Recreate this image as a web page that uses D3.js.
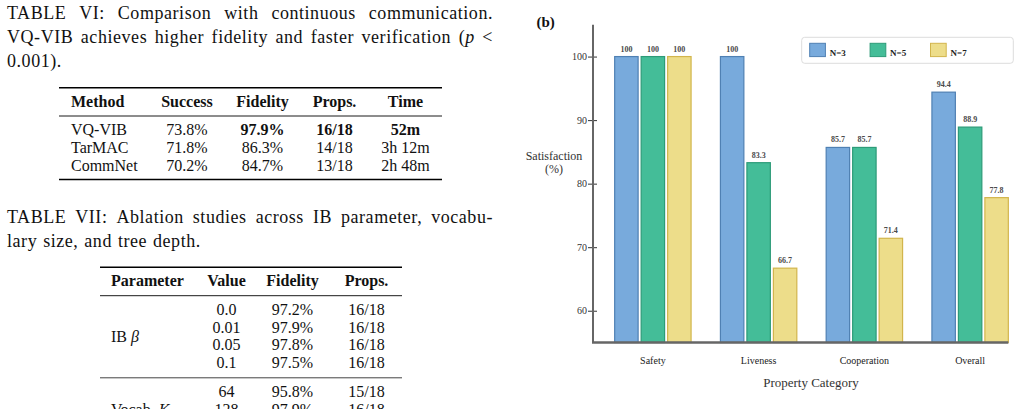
<!DOCTYPE html>
<html>
<head>
<meta charset="utf-8">
<script src="https://cdn.jsdelivr.net/npm/d3@7"></script>
<style>
  body { margin: 0; background: #fff; }
  svg { display: block; }
  text { font-family: "Liberation Serif", "Times New Roman", serif; }
</style>
</head>
<body>
<div id="fig"></div>
<script>
// ---- table VI ----
const cap6 = ["TABLE VI: Comparison with continuous communication.",
              "VQ-VIB achieves higher fidelity and faster verification (_p_ <",
              "0.001)."];
const t6Head = ["Method", "Success", "Fidelity", "Props.", "Time"];
const t6Method = ["VQ-VIB", "TarMAC", "CommNet"];
const t6Success = ["73.8%", "71.8%", "70.2%"];
const t6Fidelity = ["97.9%", "86.3%", "84.7%"];
const t6Props = ["16/18", "14/18", "13/18"];
const t6Time = ["52m", "3h 12m", "2h 48m"];

// ---- table VII ----
const cap7 = ["TABLE VII: Ablation studies across IB parameter, vocabu-",
              "lary size, and tree depth."];
const t7Head = ["Parameter", "Value", "Fidelity", "Props."];
const t7Groups = ["IB _β_", "Vocab. _K_"];
const t7Value = [["0.0", "0.01", "0.05", "0.1"], ["64", "128"]];
const t7Fidelity = [["97.2%", "97.9%", "97.8%", "97.5%"], ["95.8%", "97.9%"]];
const t7Props = [["16/18", "16/18", "16/18", "16/18"], ["15/18", "16/18"]];

// ---- chart (b) ----
const categories = ["Safety", "Liveness", "Cooperation", "Overall"];
const seriesNames = ["N=3", "N=5", "N=7"];
const n3Vals = [100, 100, 85.7, 94.4];
const n5Vals = [100, 83.3, 85.7, 88.9];
const n7Vals = [100, 66.7, 71.4, 77.8];
const yTicks = [60, 70, 80, 90, 100];

const fills = ["#78aadc", "#44bd98", "#eddd8a"];
const strokes = ["#4f80b3", "#2d9b78", "#d2b54c"];

const svg = d3.select("#fig").append("svg")
  .attr("width", 1020)
  .attr("height", 409);

// text with _italic_ parts
function richText(sel, str) {
  str.split("_").forEach((seg, i) => {
    if (seg) sel.append("tspan").attr("font-style", i % 2 ? "italic" : null).text(seg);
  });
  return sel;
}

function captionLine(str, x0, x1, y, size, justify) {
  const words = str.split(" ");
  const nodes = words.map(w => richText(svg.append("text")
      .attr("y", y).attr("font-size", size)
      .attr("letter-spacing", 0.55)
      .attr("fill", "#111"), w));
  const widths = nodes.map(n => n.node().getComputedTextLength());
  const gap = justify ? (x1 - x0 - d3.sum(widths)) / (words.length - 1) : size * 0.33;
  let x = x0;
  nodes.forEach((n, i) => { n.attr("x", x); x += widths[i] + gap; });
}

function rule(x0, x1, y, w, c) {
  svg.append("line")
    .attr("x1", x0).attr("x2", x1).attr("y1", y).attr("y2", y)
    .attr("stroke", c || "#000").attr("stroke-width", w);
}

function cell(str, x, y, anchor, bold) {
  richText(svg.append("text")
    .attr("x", x).attr("y", y)
    .attr("text-anchor", anchor)
    .attr("font-size", 16)
    .attr("font-weight", bold ? "bold" : null)
    .attr("fill", "#111"), str);
}

// captions
cap6.forEach((l, i) => captionLine(l, 7, 493, 19 + i * 24, 18, i < cap6.length - 1));
cap7.forEach((l, i) => captionLine(l, 7, 493, 223 + i * 24, 18, i < cap7.length - 1));

// table VI
const col6 = [71, 187, 262.5, 334.5, 405.5];
const anchor6 = ["start", "middle", "middle", "middle", "middle"];
rule(59, 442, 87.7, 1.4);
t6Head.forEach((h, j) => cell(h, col6[j], 106.5, anchor6[j], true));
rule(59, 442, 116, 0.9);
t6Method.forEach((m, i) => {
  const y = 135 + i * 17.8;
  const best = i === 0;
  [m, t6Success[i], t6Fidelity[i], t6Props[i], t6Time[i]].forEach((v, j) =>
    cell(v, col6[j], y, anchor6[j], best && j >= 2));
});
rule(59, 442, 179.5, 1.4);

// table VII
const col7 = [111, 226.5, 292.5, 366.5];
const anchor7 = ["start", "middle", "middle", "middle"];
rule(100, 402, 267.3, 1.4);
t7Head.forEach((h, j) => cell(h, col7[j], 286, anchor7[j], true));
rule(100, 402, 295.7, 0.9);
let rowY = 315;
t7Groups.forEach((g, gi) => {
  const ys = t7Value[gi].map((v, k) => rowY + k * 17.7);
  t7Value[gi].forEach((v, k) => {
    cell(v, col7[1], ys[k], "middle");
    cell(t7Fidelity[gi][k], col7[2], ys[k], "middle");
    cell(t7Props[gi][k], col7[3], ys[k], "middle");
  });
  const labelY = gi === 0 ? (ys[0] + ys[ys.length - 1]) / 2 : ys[1];
  cell(g, col7[0], labelY, "start");
  rowY = ys[ys.length - 1] + 9.7;
  if (gi === 0) rule(100, 402, rowY, 1, "#444");
  rowY += 19;
});

// ---- chart ----
const x = d3.scaleBand().domain(categories).range([600, 1023]);
const groupW = 76.4;
const xs = d3.scaleBand().domain(seriesNames).range([0, groupW]).paddingInner(0.115);
const y = d3.scaleLinear().domain([55, 105]).range([342.5, 24.8]);
const axisX = 593;

const seriesVals = [n3Vals, n5Vals, n7Vals];
const barData = [];
categories.forEach((c, i) => seriesNames.forEach((s, k) =>
  barData.push({ cat: c, s: s, k: k, v: seriesVals[k][i] })));
const groupX = c => x(c) + (x.bandwidth() - groupW) / 2;

const chart = svg.append("g");

chart.selectAll("rect.bar")
  .data(barData).enter()
  .append("rect")
  .attr("class", "bar")
  .attr("x", d => groupX(d.cat) + xs(d.s))
  .attr("y", d => y(d.v))
  .attr("width", xs.bandwidth())
  .attr("height", d => y(55) - y(d.v))
  .attr("fill", d => fills[d.k])
  .attr("stroke", d => strokes[d.k])
  .attr("stroke-width", 1.2);

chart.selectAll("text.val")
  .data(barData).enter()
  .append("text")
  .attr("class", "val")
  .attr("x", d => groupX(d.cat) + xs(d.s) + xs.bandwidth() / 2)
  .attr("y", d => y(d.v) - 5)
  .attr("text-anchor", "middle")
  .attr("font-size", 8)
  .attr("font-weight", "bold")
  .attr("fill", "#4a4a4a")
  .text(d => d.v === 100 ? "100" : d3.format(".1f")(d.v));

// y axis
const yAxis = chart.append("g")
  .attr("transform", `translate(${axisX},0)`)
  .call(d3.axisLeft(y).tickValues(yTicks).tickSize(5).tickPadding(1));
yAxis.select(".domain").remove();
yAxis.selectAll(".tick line").attr("x1", 4).attr("stroke", "#333");
yAxis.selectAll(".tick text")
  .attr("font-size", 10)
  .attr("fill", "#333");
chart.append("line")
  .attr("x1", axisX).attr("x2", axisX)
  .attr("y1", y(105)).attr("y2", y(55))
  .attr("stroke", "#666").attr("stroke-width", 2);

// x axis
const xAxis = chart.append("g")
  .attr("transform", `translate(0,${y(55)})`)
  .call(d3.axisBottom(x).tickSize(0).tickPadding(14));
xAxis.select(".domain").remove();
xAxis.selectAll(".tick")
  .attr("transform", c => `translate(${groupX(c) + groupW / 2},0)`);
xAxis.selectAll(".tick text")
  .attr("font-size", 10)
  .attr("fill", "#222");
const lastCat = categories[categories.length - 1];
chart.append("line")
  .attr("x1", axisX - 1).attr("x2", groupX(lastCat) + groupW)
  .attr("y1", y(55)).attr("y2", y(55))
  .attr("stroke", "#666").attr("stroke-width", 2.5);

// labels
chart.append("text")
  .attr("x", 536.5).attr("y", 27)
  .attr("font-size", 15).attr("font-weight", "bold").attr("fill", "#111")
  .text("(b)");

chart.append("text")
  .attr("x", 554).attr("y", 159.5)
  .attr("text-anchor", "middle")
  .attr("font-size", 12).attr("fill", "#333")
  .text("Satisfaction");
chart.append("text")
  .attr("x", 554).attr("y", 173)
  .attr("text-anchor", "middle")
  .attr("font-size", 12).attr("fill", "#333")
  .text("(%)");

chart.append("text")
  .attr("x", 811).attr("y", 387)
  .attr("text-anchor", "middle")
  .attr("font-size", 13).attr("fill", "#333")
  .text("Property Category");

// legend
const legend = chart.append("g").attr("transform", "translate(801.7,37.3)");
legend.append("rect")
  .attr("width", 211.6).attr("height", 26)
  .attr("rx", 3)
  .attr("fill", "#fff")
  .attr("stroke", "#ddd");
seriesNames.forEach((s, k) => {
  const lg = legend.append("g").attr("transform", `translate(${8 + k * 60.4},6)`);
  lg.append("rect")
    .attr("width", 15.7).attr("height", 13.3)
    .attr("fill", fills[k]).attr("stroke", strokes[k]).attr("stroke-width", 1);
  lg.append("text")
    .attr("x", 20).attr("y", 13)
    .attr("font-size", 9).attr("font-weight", "bold").attr("fill", "#222")
    .text(s);
});
</script>
</body>
</html>
